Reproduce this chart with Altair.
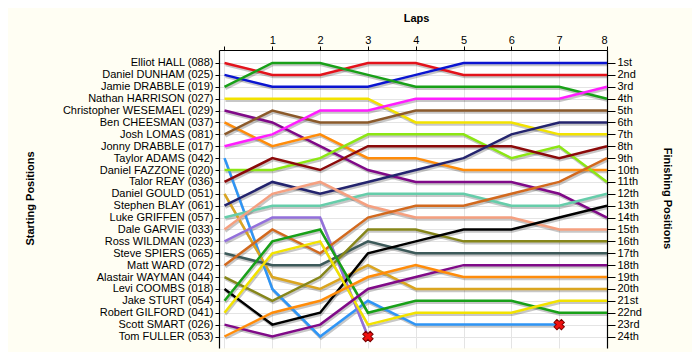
import altair as alt
import pandas as pd

names = [
    "Elliot HALL (088)", "Daniel DUNHAM (025)", "Jamie DRABBLE (019)", "Nathan HARRISON (027)",
    "Christopher WESEMAEL (029)", "Ben CHEESMAN (037)", "Josh LOMAS (081)", "Jonny DRABBLE (017)",
    "Taylor ADAMS (042)", "Daniel FAZZONE (020)", "Talor REAY (036)", "Daniel GOULD (051)",
    "Stephen BLAY (061)", "Luke GRIFFEN (057)", "Dale GARVIE (033)", "Ross WILDMAN (023)",
    "Steve SPIERS (065)", "Matt WARD (072)", "Alastair WAYMAN (044)", "Levi COOMBS (018)",
    "Jake STURT (054)", "Robert GILFORD (041)", "Scott SMART (026)", "Tom FULLER (053)",
]
colors = [
    "#E3121B", "#0A14D0", "#18A018", "#F2E200",
    "#800A88", "#FF8C0A", "#8B5A2B", "#FF1EFF",
    "#2F95F5", "#8CE614", "#8B0A0A", "#DAA520",
    "#24246E", "#66CDAA", "#F5A080", "#9370DB",
    "#3D5A5A", "#D2691E", "#86861A", "#000000",
    "#18A018", "#F2E200", "#800A88", "#FF8C0A",
]
laps = [0, 1, 2, 3, 4, 5, 6, 7, 8]
# position per lap (None = retired)
positions = [
    [1, 2, 2, 1, 1, 2, 2, 2, 2],
    [2, 3, 3, 3, 2, 1, 1, 1, 1],
    [3, 1, 1, 2, 3, 3, 3, 3, 4],
    [4, 4, 4, 4, 6, 6, 6, 7, 7],
    [5, 6, 8, 10, 11, 11, 11, 12, 14],
    [6, 8, 7, 9, 9, 10, 10, 10, 10],
    [7, 5, 6, 6, 5, 5, 5, 5, 5],
    [8, 7, 5, 5, 4, 4, 4, 4, 3],
    [9, 20, 24, 21, 23, 23, 23, 23, None],
    [10, 10, 9, 7, 7, 7, 9, 8, 11],
    [11, 9, 10, 8, 8, 8, 8, 9, 8],
    [12, 19, 20, 18, 20, 20, 20, 20, 20],
    [13, 11, 12, 11, 10, 9, 7, 6, 6],
    [14, 13, 13, 12, 12, 12, 13, 13, 12],
    [15, 12, 11, 13, 14, 14, 14, 15, 15],
    [16, 14, 14, 24, None, None, None, None, None],
    [17, 18, 18, 16, 17, 17, 17, 17, 17],
    [18, 15, 17, 14, 13, 13, 12, 11, 9],
    [19, 21, 19, 15, 15, 16, 16, 16, 16],
    [20, 23, 22, 17, 16, 15, 15, 14, 13],
    [21, 16, 15, 22, 21, 21, 21, 22, 22],
    [22, 17, 16, 23, 22, 22, 22, 21, 21],
    [23, 24, 23, 20, 19, 18, 18, 18, 18],
    [24, 22, 21, 19, 18, 19, 19, 19, 19],
]
finish_labels = ["1st", "2nd", "3rd", "4th", "5th", "6th", "7th", "8th", "9th", "10th",
                 "11th", "12th", "13th", "14th", "15th", "16th", "17th", "18th", "19th",
                 "20th", "21st", "22nd", "23rd", "24th"]

rows = []
retire_rows = []
for i, (nm, pos) in enumerate(zip(names, positions)):
    last = None
    for lap, p in zip(laps, pos):
        if p is not None:
            rows.append({"rider": nm, "idx": i, "lap": lap, "pos": p})
            last = (lap, p)
    if pos[-1] is None:
        retire_rows.append({"rider": nm, "lap": last[0], "pos": last[1]})
df = pd.DataFrame(rows)
dfr = pd.DataFrame(retire_rows)

FONT = "Liberation Sans"
ydom = [-0.093, 24.967]
xdom = [-0.115, 8]

left_expr = "[" + ",".join(["''"] + ["'" + n + "'" for n in names]) + "][datum.value]"
right_expr = "[" + ",".join(["''"] + ["'" + n + "'" for n in finish_labels]) + "][datum.value]"

xenc = alt.X("lap:Q", scale=alt.Scale(domain=xdom, nice=False, zero=False),
             axis=alt.Axis(orient="top", values=laps, labelExpr="datum.value == 0 ? '' : datum.label",
                           title="Laps", titleFontWeight="bold", titleFontSize=11, titleFont=FONT,
                           titleX=197, titleY=-32, titleBaseline="middle", titleAlign="center",
                           labelFont=FONT, labelFontSize=11, labelColor="#000", labelPadding=1,
                           tickSize=4, tickColor="#000", domainColor="#000", domainWidth=1.2,
                           grid=True, gridColor="#E4E4E4", gridWidth=1))

shadow = alt.Chart(df).mark_line(strokeWidth=2.5, color="#000000", opacity=0.22,
                                 xOffset=1, yOffset=2, strokeJoin="miter").encode(
    x=xenc,
    y=alt.Y("pos:Q", scale=alt.Scale(domain=ydom, reverse=True, nice=False, zero=False),
            axis=alt.Axis(orient="left", values=list(range(1, 25)), labelExpr=left_expr,
                          title="Starting Positions", titleFontWeight="bold", titleFontSize=11,
                          titleFont=FONT, titleAngle=270, titleX=-189, titleY=148,
                          titleBaseline="middle", titleAlign="center",
                          labelFont=FONT, labelFontSize=11, labelColor="#000", labelPadding=2,
                          tickSize=4, tickColor="#000", domainColor="#000", domainWidth=1.2,
                          grid=True, gridColor="#E4E4E4", gridWidth=1)),
    detail="rider:N",
    order="lap:Q",
)

lines = alt.Chart(df).mark_line(strokeWidth=2.5, strokeJoin="miter").encode(
    x=alt.X("lap:Q", scale=alt.Scale(domain=xdom, nice=False, zero=False)),
    y=alt.Y("pos:Q", scale=alt.Scale(domain=ydom, reverse=True, nice=False, zero=False),
            axis=alt.Axis(orient="right", values=list(range(1, 25)), labelExpr=right_expr,
                          title="Finishing Positions", titleFontWeight="bold", titleFontSize=11,
                          titleFont=FONT, titleAngle=90, titleX=59, titleY=148,
                          titleBaseline="middle", titleAlign="center",
                          labelFont=FONT, labelFontSize=11, labelColor="#000", labelPadding=2,
                          tickSize=8, tickColor="#000", domainColor="#000", domainWidth=1.2,
                          grid=False)),
    color=alt.Color("rider:N", scale=alt.Scale(domain=names, range=colors), legend=None),
    order="lap:Q",
)

marks = alt.Chart(dfr).mark_point(shape="cross", angle=45, size=110, filled=True,
                                  fill="#F01010", stroke="#7A0000", strokeWidth=1,
                                  opacity=1).encode(
    x=alt.X("lap:Q", scale=alt.Scale(domain=xdom, nice=False, zero=False)),
    y=alt.Y("pos:Q", scale=alt.Scale(domain=ydom, reverse=True, nice=False, zero=False), axis=None),
)

chart = alt.layer(shadow, lines, marks).resolve_scale(y="independent").resolve_axis(
    y="independent").properties(
    width=388, height=298,
    autosize=alt.AutoSizeParams(type="none"),
    padding={"left": 211, "top": 42, "right": 85, "bottom": 4},
    background="#FFFEF3",
).configure_view(fill="white", stroke=None)

chart.save("out.html", embed_options={"renderer": "svg", "actions": False})
